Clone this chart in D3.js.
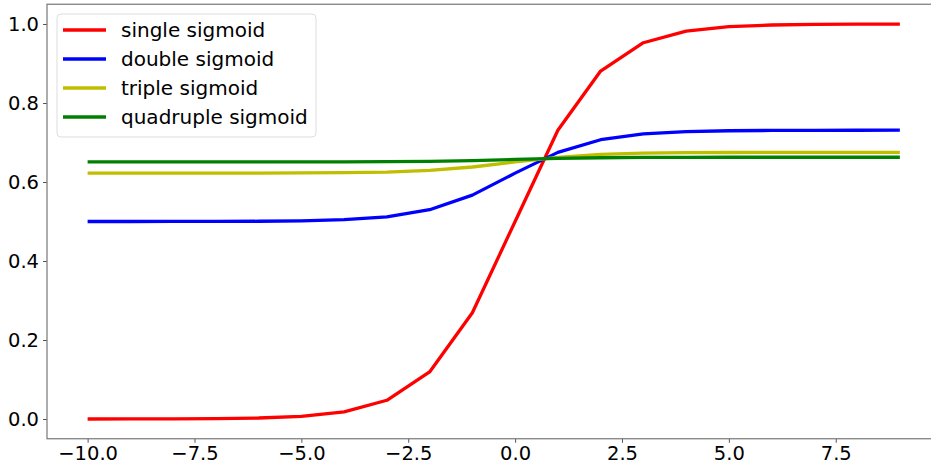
<!DOCTYPE html>
<html>
<head>
<meta charset="utf-8">
<script src="https://cdn.jsdelivr.net/npm/d3@7"></script>
<style>
  body { margin: 0; background: #fff; }
  svg { display: block; font-family: "DejaVu Sans", sans-serif; }
</style>
</head>
<body>
<svg width="931" height="466"></svg>
<script>
// x values and the four series
var xs = [-10, -9, -8, -7, -6, -5, -4, -3, -2, -1, 0, 1, 2, 3, 4, 5, 6, 7, 8, 9];
var single = [0.0000, 0.0001, 0.0003, 0.0009, 0.0025, 0.0067, 0.0180, 0.0474, 0.1192, 0.2689,
              0.5000, 0.7311, 0.8808, 0.9526, 0.9820, 0.9933, 0.9975, 0.9991, 0.9997, 0.9999];
var double = [0.5000, 0.5000, 0.5001, 0.5002, 0.5006, 0.5017, 0.5045, 0.5118, 0.5298, 0.5668,
              0.6225, 0.6750, 0.7070, 0.7216, 0.7275, 0.7297, 0.7306, 0.7309, 0.7310, 0.7311];
var triple = [0.6225, 0.6225, 0.6225, 0.6225, 0.6226, 0.6229, 0.6235, 0.6252, 0.6294, 0.6380,
              0.6508, 0.6626, 0.6697, 0.6730, 0.6743, 0.6747, 0.6749, 0.6750, 0.6750, 0.6750];
var quadruple = [0.6508, 0.6508, 0.6508, 0.6508, 0.6508, 0.6509, 0.6510, 0.6514, 0.6524, 0.6543,
                 0.6572, 0.6599, 0.6614, 0.6622, 0.6625, 0.6626, 0.6626, 0.6626, 0.6626, 0.6626];
var seriesNames = ["single sigmoid", "double sigmoid", "triple sigmoid", "quadruple sigmoid"];
var seriesColors = ["#ff0000", "#0000ff", "#bfbf00", "#008000"];
var xTicks = [-10, -7.5, -5, -2.5, 0, 2.5, 5, 7.5];
var yTicks = [0, 0.2, 0.4, 0.6, 0.8, 1.0];

var allSeries = [single, double, triple, quadruple];

var svg = d3.select("svg");
var plotLeft = 47, plotTop = 4.25, plotBottom = 438.75;

var x = d3.scaleLinear().domain([-10.95, 9.95]).range([plotLeft, plotLeft + 20.9 * 42.75]);
var y = d3.scaleLinear().domain([-0.05, 1.05]).range([plotBottom, plotTop]);

var fmt = function(d) { return d3.format(".1f")(d).replace("-", "\u2212"); };

// axes
var xAxis = svg.append("g")
   .attr("transform", "translate(0," + plotBottom + ")")
   .call(d3.axisBottom(x).tickValues(xTicks).tickFormat(fmt).tickSize(4).tickPadding(3));
var yAxis = svg.append("g")
   .attr("transform", "translate(" + plotLeft + ",0)")
   .call(d3.axisLeft(y).tickValues(yTicks).tickFormat(fmt).tickSize(4).tickPadding(4));

[xAxis, yAxis].forEach(function(a) {
   a.selectAll("text").style("font-size", "19.5px").attr("fill", "#000")
      .style("font-family", "DejaVu Sans, sans-serif");
   a.selectAll("line").attr("stroke", "#555");
   a.select(".domain").remove();
});

// spines
svg.append("rect")
   .attr("x", plotLeft).attr("y", plotTop)
   .attr("width", x.range()[1] - plotLeft).attr("height", plotBottom - plotTop)
   .attr("fill", "none").attr("stroke", "#777").attr("stroke-width", 1.2);

var line = d3.line()
   .x(function(d, i) { return x(xs[i]); })
   .y(function(d) { return y(d); });

svg.append("g")
   .selectAll("path")
   .data(allSeries)
   .enter().append("path")
   .attr("d", line)
   .attr("fill", "none")
   .attr("stroke", function(d, i) { return seriesColors[i]; })
   .attr("stroke-width", 3.3)
   .attr("stroke-linejoin", "round");

// legend
var legend = svg.append("g").attr("transform", "translate(57,14)");
legend.append("rect")
   .attr("width", 259).attr("height", 123).attr("rx", 4)
   .attr("fill", "#fff").attr("fill-opacity", 0.8)
   .attr("stroke", "#ddd");

var items = legend.selectAll("g.item")
   .data(seriesNames)
   .enter().append("g")
   .attr("class", "item")
   .attr("transform", function(d, i) { return "translate(0," + (16 + i * 29) + ")"; });

items.append("line")
   .attr("x1", 6).attr("x2", 49)
   .attr("stroke", function(d, i) { return seriesColors[i]; })
   .attr("stroke-width", 3.3);

items.append("text")
   .attr("x", 64).attr("dy", "0.35em")
   .style("font-size", "20px")
   .text(function(d) { return d; });
</script>
</body>
</html>
